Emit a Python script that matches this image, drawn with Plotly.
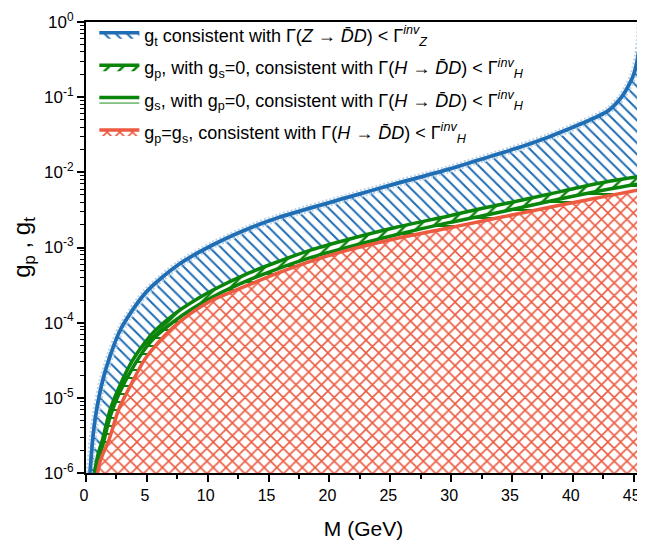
import plotly.graph_objects as go

# ---------------- data ----------------
m_t = [0.33, 0.54, 0.8, 1.36, 2.0, 2.87, 4.9, 7.65, 10.5, 13.4, 15.8, 21.6, 25.5,
       29.8, 32.5, 35.0, 38.0, 40.5, 42.9, 44.0, 44.5, 45.0, 45.35, 45.5, 45.58]
g_t = [1.0e-6, 2.7e-6, 5.9e-6, 1.66e-5, 3.7e-5, 8.3e-5, 2.5e-4, 6.0e-4, 1.1e-3, 1.8e-3,
       2.5e-3, 4.7e-3, 7.1e-3, 1.1e-2, 1.5e-2, 2.0e-2, 2.95e-2, 4.3e-2, 6.6e-2, 0.10,
       0.135, 0.20, 0.35, 0.56, 1.0]

m_p = [0.68, 1.0, 1.36, 2.0, 2.73, 3.8, 4.9, 5.7, 7.5, 9.3, 10.4, 13.4, 15.8, 18.5,
       21.6, 25.5, 29.8, 32.5, 35.0, 38.0, 40.5, 43.0, 45.6]
g_p = [1.0e-6, 1.8e-6, 2.8e-6, 7.1e-6, 1.4e-5, 3.1e-5, 5.6e-5, 7.9e-5, 1.39e-4, 2.14e-4,
       2.7e-4, 4.6e-4, 6.5e-4, 9.3e-4, 1.29e-3, 1.86e-3, 2.63e-3, 3.3e-3, 4.0e-3,
       5.1e-3, 6.3e-3, 7.6e-3, 8.9e-3]

m_s = [0.75, 1.0, 1.36, 2.0, 2.73, 3.8, 4.9, 5.7, 7.5, 9.3, 10.4, 13.4, 15.8, 18.5,
       21.6, 25.5, 29.8, 32.5, 35.0, 38.0, 40.5, 43.0, 45.6]
g_s = [1.0e-6, 1.5e-6, 2.3e-6, 5.75e-6, 1.15e-5, 2.45e-5, 4.6e-5, 6.5e-5, 1.12e-4,
       1.74e-4, 2.2e-4, 3.7e-4, 5.25e-4, 7.4e-4, 1.02e-3, 1.48e-3, 2.14e-3, 2.63e-3,
       3.2e-3, 4.1e-3, 5.0e-3, 6.0e-3, 7.1e-3]

m_ps = [0.95, 1.2, 1.9, 2.7, 3.7, 4.8, 6.0, 7.1, 8.5, 10.4, 13.4, 15.8, 18.5, 21.6,
        25.5, 29.8, 32.5, 35.0, 38.0, 40.5, 43.0, 45.6]
g_ps = [1.0e-6, 1.5e-6, 2.8e-6, 7.1e-6, 1.5e-5, 3.2e-5, 5.6e-5, 8.5e-5, 1.29e-4,
        2.0e-4, 3.2e-4, 4.6e-4, 6.6e-4, 9.3e-4, 1.32e-3, 1.82e-3, 2.24e-3, 2.7e-3,
        3.4e-3, 4.1e-3, 4.9e-3, 5.9e-3]

y_tickvals = [1e-6, 1e-5, 1e-4, 1e-3, 1e-2, 1e-1, 1]
y_ticktext = ["10<sup>-6</sup>", "10<sup>-5</sup>", "10<sup>-4</sup>", "10<sup>-3</sup>",
              "10<sup>-2</sup>", "10<sup>-1</sup>", "10<sup>0</sup>"]
x_tickvals = [0, 5, 10, 15, 20, 25, 30, 35, 40, 45]

FLOOR = 1e-7  # fill baseline, below the visible axis range

legend_names = [
    "g<sub>t</sub> consistent with Γ(<i>Z</i> → <i>D̄D</i>) < Γ<sup><i>inv</i></sup><sub><i>Z</i></sub>",
    "g<sub>p</sub>, with g<sub>s</sub>=0, consistent with Γ(<i>H</i> → <i>D̄D</i>) < Γ<sup><i>inv</i></sup><sub><i>H</i></sub>",
    "g<sub>s</sub>, with g<sub>p</sub>=0, consistent with Γ(<i>H</i> → <i>D̄D</i>) < Γ<sup><i>inv</i></sup><sub><i>H</i></sub>",
    "g<sub>p</sub>=g<sub>s</sub>, consistent with Γ(<i>H</i> → <i>D̄D</i>) < Γ<sup><i>inv</i></sup><sub><i>H</i></sub>",
]

BLUE = "#1f6db4"
LBLUE = "#b9d3ea"
GREEN = "#0a840a"
RED = "#ec5a40"

fig = go.Figure()


def add_region(mx, gy, color, shape, name, size, solidity, width, group, dotted=False):
    # invisible baseline
    fig.add_trace(go.Scatter(x=[mx[0], mx[-1]], y=[FLOOR, FLOOR], mode="lines",
                             line=dict(width=0), showlegend=False, hoverinfo="skip",
                             legendgroup=group))
    fig.add_trace(go.Scatter(
        x=mx, y=gy, mode="lines", name=name, fill="tonexty", legendgroup=group,
        line=dict(color=color, width=width, shape="spline", smoothing=0.8),
        fillpattern=dict(shape=shape, fgcolor=color, bgcolor="white",
                         size=size, solidity=solidity, fillmode="replace"),
        fillcolor="white",
    ))
    if dotted:
        fig.add_trace(go.Scatter(x=mx, y=gy, mode="lines", showlegend=False,
                                 legendgroup=group,
                                 line=dict(color=LBLUE, width=8, dash="2px,2px",
                                           shape="spline", smoothing=0.8),
                                 hoverinfo="skip"))
        fig.add_trace(go.Scatter(x=mx, y=gy, mode="lines", showlegend=False,
                                 legendgroup=group,
                                 line=dict(color=color, width=width, shape="spline",
                                           smoothing=0.8),
                                 hoverinfo="skip"))


add_region(m_t, g_t, BLUE, "\\", legend_names[0], 8, 0.25, 3.5, "t", dotted=True)
add_region(m_p, g_p, GREEN, "/", legend_names[1], 10, 0.25, 3.5, "p")
add_region(m_s, g_s, GREEN, "-", legend_names[2], 8, 0.25, 3.5, "s")
add_region(m_ps, g_ps, RED, "x", legend_names[3], 9, 0.32, 3.5, "ps")

# the page body has an 8 px margin, so the figure is drawn 8 px in from the corner
fig.update_layout(
    width=637, height=538,
    margin=dict(l=78, r=2, t=7, b=73),
    paper_bgcolor="white", plot_bgcolor="white",
    font=dict(family="Liberation Sans, Arial, sans-serif", size=16, color="black"),
    showlegend=True,
    legend=dict(x=0.015, y=1.012, xanchor="left", yanchor="top",
                bgcolor="rgba(255,255,255,0)", font=dict(size=18),
                traceorder="grouped", tracegroupgap=6, itemwidth=40),
    xaxis=dict(range=[0, 45.6], tickmode="array", tickvals=x_tickvals,
               ticks="outside", ticklen=7, tickwidth=2, tickcolor="black",
               showline=True, linewidth=2, linecolor="black", mirror=True,
               showgrid=False, zeroline=False, ticklabeloverflow="allow",
               ticklabelshift=-2,
               minor=dict(dtick=2.5, tick0=0, ticks="outside", ticklen=4,
                          tickwidth=1.5, tickcolor="black", showgrid=False),
               title=dict(text="M (GeV)", font=dict(size=21), standoff=18),
               tickfont=dict(size=16)),
    yaxis=dict(type="log", range=[-6, 0], tickmode="array", tickvals=y_tickvals,
               ticktext=y_ticktext, ticks="outside", ticklen=7, tickwidth=2,
               tickcolor="black", showline=True, linewidth=2, linecolor="black",
               mirror=True, showgrid=False, zeroline=False, ticklabeloverflow="allow",
               minor=dict(dtick="D1", ticks="outside", ticklen=4, tickwidth=1,
                          tickcolor="black", showgrid=False),
               title=dict(text="g<sub>p</sub> , g<sub>t</sub>", font=dict(size=24),
                          standoff=10),
               tickfont=dict(size=17)),
)

fig.write_html("out.html")
